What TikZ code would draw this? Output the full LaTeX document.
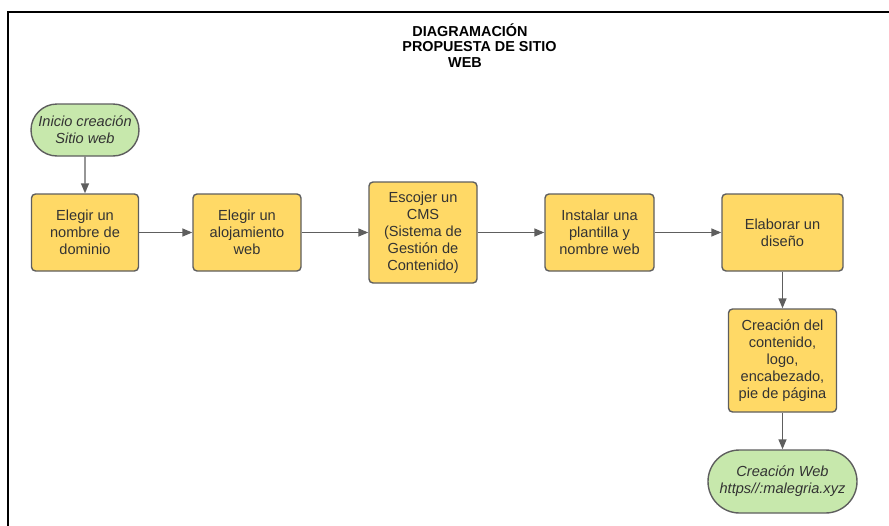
\documentclass[tikz,border=0pt]{standalone}
\usepackage{fontspec}
\setmainfont{Liberation Sans}
\usetikzlibrary{arrows.meta,shapes.misc}
\definecolor{stepfill}{HTML}{FFD966}
\definecolor{termfill}{HTML}{C7E8AC}
\definecolor{edgegray}{HTML}{5E5E5E}
\definecolor{txtgray}{HTML}{333333}
\tikzset{
  stepbox/.style={draw=edgegray, line width=1.4pt, fill=stepfill, rounded corners=4pt,
    inner sep=0pt, align=center, text=txtgray, font=\fontsize{14.6}{17}\selectfont},
  termbox/.style={draw=edgegray, line width=1.4pt, fill=termfill, rounded rectangle,
    inner sep=0pt, align=center, text=txtgray, font=\fontsize{14.6}{17}\selectfont\itshape},
  flow/.style={draw=edgegray, line width=1.4pt, -{Triangle[length=10pt,width=8pt]}},
  heading/.style={font=\fontsize{14.4}{16}\selectfont\bfseries, text=black, inner sep=0pt}
}
\begin{document}
\begin{tikzpicture}[x=1pt,y=-1pt]
  \useasboundingbox (0,0) rectangle (889,525);
  % outer frame, running past the page on the right and bottom
  \draw[line width=2pt, black] (8,540) -- (8,11.5) -- (900,11.5);

  % title
  \node[heading] (t1) at (470,30.5) {DIAGRAMACIÓN};
  \node[heading] (t2) at (479.5,46.5) {PROPUESTA DE SITIO};
  \node[heading] (t3) at (465,62.5) {WEB};

  % flow nodes
  \node[termbox, minimum width=108pt, minimum height=52pt] (start) at (85,130) {Inicio creación\\Sitio web};
  \node[stepbox, minimum width=107pt, minimum height=77pt] (b1) at (85,232.5) {Elegir un\\nombre de\\dominio};
  \node[stepbox, minimum width=108pt, minimum height=77pt] (b2) at (247,232.5) {Elegir un\\alojamiento\\web};
  \node[stepbox, minimum width=108pt, minimum height=101pt] (b3) at (423,232.5) {Escojer un\\CMS\\(Sistema de\\Gestión de\\Contenido)};
  \node[stepbox, minimum width=109pt, minimum height=77pt] (b4) at (599.5,232.5) {Instalar una\\plantilla y\\nombre web};
  \node[stepbox, minimum width=121pt, minimum height=77pt] (b5) at (782.5,232.5) {Elaborar un\\diseño};
  \node[stepbox, minimum width=108pt, minimum height=103pt] (b6) at (782.5,360.5) {Creación del\\contenido,\\logo,\\encabezado,\\pie de página};
  \node[termbox, minimum width=149pt, minimum height=63pt] (end) at (782.5,481.5) {Creación Web\\https//:malegria.xyz};

  % connectors
  \draw[flow] (start) -- (b1);
  \draw[flow] (b1) -- (b2);
  \draw[flow] (b2) -- (b3);
  \draw[flow] (b3) -- (b4);
  \draw[flow] (b4) -- (b5);
  \draw[flow] (b5) -- (b6);
  \draw[flow] (b6) -- (end);
\end{tikzpicture}
\end{document}
